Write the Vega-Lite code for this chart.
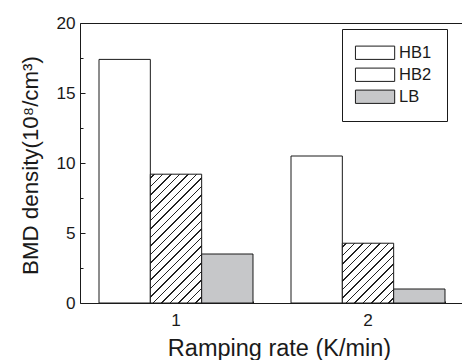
{
  "$schema": "https://vega.github.io/schema/vega-lite/v6.json",
  "width": 384,
  "height": 280,
  "autosize": {"type": "none"},
  "padding": {"left": 80, "top": 23, "right": 0, "bottom": 57},
  "background": "white",
  "config": {
    "view": {"stroke": "#1a1a1a", "strokeWidth": 1},
    "font": "Liberation Sans"
  },
  "data": {
    "values": [
      {"rate": "1", "series": "HB1", "density": 17.4},
      {"rate": "1", "series": "HB2", "density": 9.2},
      {"rate": "1", "series": "LB", "density": 3.5},
      {"rate": "2", "series": "HB1", "density": 10.5},
      {"rate": "2", "series": "HB2", "density": 4.27},
      {"rate": "2", "series": "LB", "density": 1.0}
    ]
  },
  "layer": [
    {
      "mark": {"type": "bar", "stroke": "#1a1a1a", "strokeWidth": 1},
      "encoding": {
        "x": {
          "field": "rate",
          "type": "nominal",
          "scale": {"domain": ["1", "2"], "paddingInner": 0.198, "paddingOuter": 0.099},
          "axis": {
            "labelAngle": 0,
            "tickSize": -4,
            "tickColor": "#1a1a1a",
            "labelPadding": 26,
            "labelBaseline": "alphabetic",
            "labelFontSize": 17.2,
            "labelColor": "#1a1a1a",
            "domain": false,
            "grid": false,
            "title": "Ramping rate (K/min)",
            "titleFontSize": 23.5,
            "titleFontWeight": "normal",
            "titleColor": "#1a1a1a",
            "titleX": 199,
            "titleY": 52,
            "titleAlign": "center",
            "titleBaseline": "alphabetic"
          }
        },
        "xOffset": {
          "field": "series",
          "type": "nominal",
          "scale": {"domain": ["HB1", "HB2", "LB"], "paddingInner": 0, "paddingOuter": 0}
        },
        "y": {
          "field": "density",
          "type": "quantitative",
          "scale": {"domain": [0, 20], "nice": false},
          "axis": {
            "values": [0, 2.5, 5, 7.5, 10, 12.5, 15, 17.5, 20],
            "labelExpr": "datum.value % 5 === 0 ? '' + datum.value : ''",
            "tickSize": {"condition": {"test": "datum.value % 5 === 0", "value": -5}, "value": -3},
            "tickColor": "#1a1a1a",
            "labelPadding": 10,
            "labelFontSize": 17.2,
            "labelColor": "#1a1a1a",
            "domain": false,
            "grid": false,
            "title": "BMD density(10⁸/cm³)",
            "titleFontSize": 22.3,
            "titleFontWeight": "normal",
            "titleColor": "#1a1a1a",
            "titleX": -43,
            "titleY": 142,
            "titleAngle": -90,
            "titleAlign": "center",
            "titleBaseline": "alphabetic"
          }
        },
        "fill": {
          "field": "series",
          "type": "nominal",
          "scale": {"domain": ["HB1", "HB2", "LB"], "range": ["#ffffff", "#ffffff", "#c6c7c9"]},
          "condition": [
            {
              "test": "datum.series === 'HB2' && datum.rate === '1'",
              "value": {
                "gradient": "linear", "x1": 0, "y1": 0, "x2": 0.481, "y2": 1.2069,
                "stops": [
                  {"offset": 0, "color": "#ffffff"},
                  {"offset": 0.01804, "color": "#ffffff"}, {"offset": 0.01804, "color": "#222222"}, {"offset": 0.02637, "color": "#222222"}, {"offset": 0.02637, "color": "#ffffff"},
                  {"offset": 0.06523, "color": "#ffffff"}, {"offset": 0.06523, "color": "#222222"}, {"offset": 0.07356, "color": "#222222"}, {"offset": 0.07356, "color": "#ffffff"},
                  {"offset": 0.11242, "color": "#ffffff"}, {"offset": 0.11242, "color": "#222222"}, {"offset": 0.12075, "color": "#222222"}, {"offset": 0.12075, "color": "#ffffff"},
                  {"offset": 0.15961, "color": "#ffffff"}, {"offset": 0.15961, "color": "#222222"}, {"offset": 0.16794, "color": "#222222"}, {"offset": 0.16794, "color": "#ffffff"},
                  {"offset": 0.20680, "color": "#ffffff"}, {"offset": 0.20680, "color": "#222222"}, {"offset": 0.21513, "color": "#222222"}, {"offset": 0.21513, "color": "#ffffff"},
                  {"offset": 0.25399, "color": "#ffffff"}, {"offset": 0.25399, "color": "#222222"}, {"offset": 0.26232, "color": "#222222"}, {"offset": 0.26232, "color": "#ffffff"},
                  {"offset": 0.30117, "color": "#ffffff"}, {"offset": 0.30117, "color": "#222222"}, {"offset": 0.30950, "color": "#222222"}, {"offset": 0.30950, "color": "#ffffff"},
                  {"offset": 0.34836, "color": "#ffffff"}, {"offset": 0.34836, "color": "#222222"}, {"offset": 0.35669, "color": "#222222"}, {"offset": 0.35669, "color": "#ffffff"},
                  {"offset": 0.39555, "color": "#ffffff"}, {"offset": 0.39555, "color": "#222222"}, {"offset": 0.40388, "color": "#222222"}, {"offset": 0.40388, "color": "#ffffff"},
                  {"offset": 0.44274, "color": "#ffffff"}, {"offset": 0.44274, "color": "#222222"}, {"offset": 0.45107, "color": "#222222"}, {"offset": 0.45107, "color": "#ffffff"},
                  {"offset": 0.48993, "color": "#ffffff"}, {"offset": 0.48993, "color": "#222222"}, {"offset": 0.49826, "color": "#222222"}, {"offset": 0.49826, "color": "#ffffff"},
                  {"offset": 0.53711, "color": "#ffffff"}, {"offset": 0.53711, "color": "#222222"}, {"offset": 0.54544, "color": "#222222"}, {"offset": 0.54544, "color": "#ffffff"},
                  {"offset": 0.58430, "color": "#ffffff"}, {"offset": 0.58430, "color": "#222222"}, {"offset": 0.59263, "color": "#222222"}, {"offset": 0.59263, "color": "#ffffff"},
                  {"offset": 0.63149, "color": "#ffffff"}, {"offset": 0.63149, "color": "#222222"}, {"offset": 0.63982, "color": "#222222"}, {"offset": 0.63982, "color": "#ffffff"},
                  {"offset": 0.67868, "color": "#ffffff"}, {"offset": 0.67868, "color": "#222222"}, {"offset": 0.68701, "color": "#222222"}, {"offset": 0.68701, "color": "#ffffff"},
                  {"offset": 0.72587, "color": "#ffffff"}, {"offset": 0.72587, "color": "#222222"}, {"offset": 0.73420, "color": "#222222"}, {"offset": 0.73420, "color": "#ffffff"},
                  {"offset": 0.77305, "color": "#ffffff"}, {"offset": 0.77305, "color": "#222222"}, {"offset": 0.78138, "color": "#222222"}, {"offset": 0.78138, "color": "#ffffff"},
                  {"offset": 0.82024, "color": "#ffffff"}, {"offset": 0.82024, "color": "#222222"}, {"offset": 0.82857, "color": "#222222"}, {"offset": 0.82857, "color": "#ffffff"},
                  {"offset": 0.86743, "color": "#ffffff"}, {"offset": 0.86743, "color": "#222222"}, {"offset": 0.87576, "color": "#222222"}, {"offset": 0.87576, "color": "#ffffff"},
                  {"offset": 0.91462, "color": "#ffffff"}, {"offset": 0.91462, "color": "#222222"}, {"offset": 0.92295, "color": "#222222"}, {"offset": 0.92295, "color": "#ffffff"},
                  {"offset": 0.96181, "color": "#ffffff"}, {"offset": 0.96181, "color": "#222222"}, {"offset": 0.97014, "color": "#222222"}, {"offset": 0.97014, "color": "#ffffff"},
                  {"offset": 1, "color": "#ffffff"}
                ]
              }
            },
            {
              "test": "datum.series === 'HB2' && datum.rate === '2'",
              "value": {
                "gradient": "linear", "x1": 0, "y1": 0, "x2": 0.9186, "y2": 1.0699,
                "stops": [
                  {"offset": 0, "color": "#ffffff"},
                  {"offset": 0.02925, "color": "#ffffff"}, {"offset": 0.02925, "color": "#222222"}, {"offset": 0.04275, "color": "#222222"}, {"offset": 0.04275, "color": "#ffffff"},
                  {"offset": 0.10575, "color": "#ffffff"}, {"offset": 0.10575, "color": "#222222"}, {"offset": 0.11925, "color": "#222222"}, {"offset": 0.11925, "color": "#ffffff"},
                  {"offset": 0.18225, "color": "#ffffff"}, {"offset": 0.18225, "color": "#222222"}, {"offset": 0.19575, "color": "#222222"}, {"offset": 0.19575, "color": "#ffffff"},
                  {"offset": 0.25875, "color": "#ffffff"}, {"offset": 0.25875, "color": "#222222"}, {"offset": 0.27225, "color": "#222222"}, {"offset": 0.27225, "color": "#ffffff"},
                  {"offset": 0.33525, "color": "#ffffff"}, {"offset": 0.33525, "color": "#222222"}, {"offset": 0.34875, "color": "#222222"}, {"offset": 0.34875, "color": "#ffffff"},
                  {"offset": 0.41175, "color": "#ffffff"}, {"offset": 0.41175, "color": "#222222"}, {"offset": 0.42525, "color": "#222222"}, {"offset": 0.42525, "color": "#ffffff"},
                  {"offset": 0.48825, "color": "#ffffff"}, {"offset": 0.48825, "color": "#222222"}, {"offset": 0.50175, "color": "#222222"}, {"offset": 0.50175, "color": "#ffffff"},
                  {"offset": 0.56475, "color": "#ffffff"}, {"offset": 0.56475, "color": "#222222"}, {"offset": 0.57825, "color": "#222222"}, {"offset": 0.57825, "color": "#ffffff"},
                  {"offset": 0.64125, "color": "#ffffff"}, {"offset": 0.64125, "color": "#222222"}, {"offset": 0.65475, "color": "#222222"}, {"offset": 0.65475, "color": "#ffffff"},
                  {"offset": 0.71775, "color": "#ffffff"}, {"offset": 0.71775, "color": "#222222"}, {"offset": 0.73125, "color": "#222222"}, {"offset": 0.73125, "color": "#ffffff"},
                  {"offset": 0.79425, "color": "#ffffff"}, {"offset": 0.79425, "color": "#222222"}, {"offset": 0.80775, "color": "#222222"}, {"offset": 0.80775, "color": "#ffffff"},
                  {"offset": 0.87075, "color": "#ffffff"}, {"offset": 0.87075, "color": "#222222"}, {"offset": 0.88425, "color": "#222222"}, {"offset": 0.88425, "color": "#ffffff"},
                  {"offset": 0.94725, "color": "#ffffff"}, {"offset": 0.94725, "color": "#222222"}, {"offset": 0.96075, "color": "#222222"}, {"offset": 0.96075, "color": "#ffffff"},
                  {"offset": 1, "color": "#ffffff"}
                ]
              }
            }
          ],
          "legend": {
            "title": null,
            "orient": "none",
            "legendX": 262,
            "legendY": 6,
            "direction": "vertical",
            "padding": 15.5,
            "strokeColor": "#1a1a1a",
            "fillColor": "#ffffff",
            "symbolType": "M-1.55,-1H4.35V1H-1.55Z",
            "symbolSize": 177,
            "symbolStrokeColor": "#1a1a1a",
            "symbolStrokeWidth": 1,
            "labelFontSize": 16.5,
            "labelColor": "#1a1a1a",
            "labelOffset": 25,
            "rowPadding": 4,
            "labelExpr": "datum.label + '  '",
            "encode": {
              "symbols": {
                "update": {
                  "stroke": {"value": "#1a1a1a"},
                  "strokeWidth": {"value": 1},
                  "opacity": {"value": 1}
                }
              }
            }
          }
        }
      }
    },
    {
      "mark": {"type": "bar", "opacity": 0},
      "encoding": {
        "x": {
          "field": "rate",
          "type": "nominal",
          "axis": {
            "orient": "bottom",
            "tickBand": "extent",
            "labels": false,
            "domain": false,
            "grid": false,
            "tickSize": -2,
            "tickColor": "#1a1a1a",
            "title": null
          }
        }
      }
    }
  ],
  "resolve": {"axis": {"x": "independent"}}
}
